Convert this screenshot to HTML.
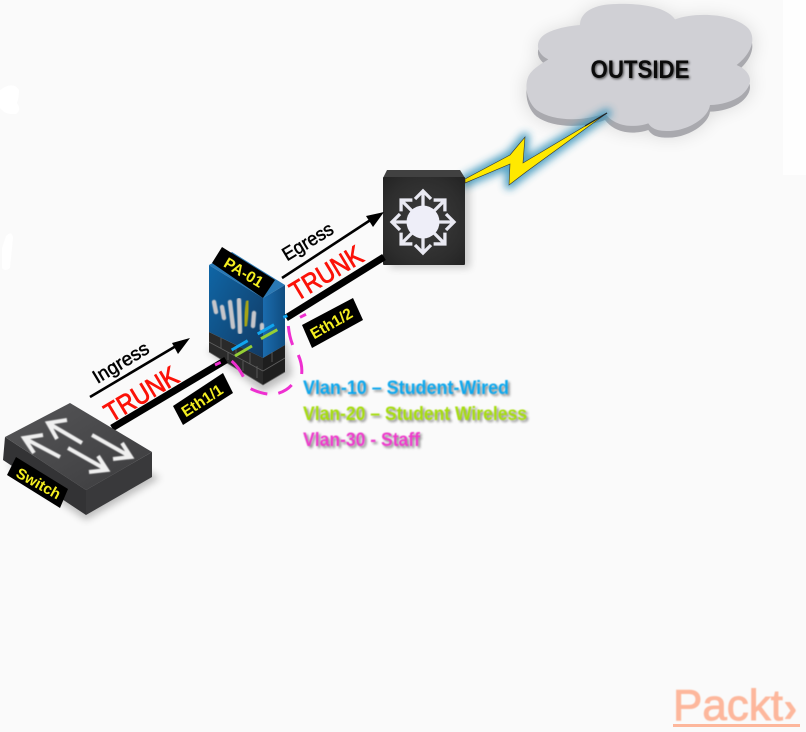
<!DOCTYPE html>
<html><head><meta charset="utf-8"><style>
html,body{margin:0;padding:0;background:#fafafa}
svg{display:block}
text{font-family:"Liberation Sans",sans-serif}
</style></head><body>
<svg width="806" height="732" viewBox="0 0 806 732" xmlns="http://www.w3.org/2000/svg">
<defs>
<filter id="soft" x="-5%" y="-5%" width="110%" height="110%"><feGaussianBlur stdDeviation="0.45"/></filter>
<filter id="b6" x="-30%" y="-30%" width="160%" height="160%"><feGaussianBlur stdDeviation="30"/></filter>
<filter id="b4" x="-30%" y="-60%" width="160%" height="220%"><feGaussianBlur stdDeviation="4"/></filter>
<filter id="ts" x="-10%" y="-40%" width="120%" height="180%"><feGaussianBlur stdDeviation="1.2"/></filter>
<radialGradient id="rt" cx=".5" cy=".5" r=".7"><stop offset="0" stop-color="#3d3d3d"/><stop offset=".7" stop-color="#2d2d2d"/><stop offset="1" stop-color="#232323"/></radialGradient>
<linearGradient id="fw" x1="0" y1="0" x2="1" y2="1"><stop offset="0" stop-color="#0f66a6"/><stop offset="1" stop-color="#123a63"/></linearGradient>
<linearGradient id="fw2" x1="0" y1="0" x2="1" y2="0"><stop offset="0" stop-color="#1b6cae"/><stop offset="1" stop-color="#0f4c7f"/></linearGradient>
<linearGradient id="swt" x1="0" y1="0" x2="1" y2="1"><stop offset="0" stop-color="#565658"/><stop offset="1" stop-color="#3c3c3e"/></linearGradient>
<path id="cl" d="M85 178C45 160 40 115 90 95C120 82 150 78 180 75C180 35 225 12 290 12C370 10 440 22 465 58C530 35 640 40 685 85C710 115 695 160 650 195C695 215 705 250 665 285C640 305 600 315 570 315C565 355 500 395 440 393C410 393 395 385 385 370C340 385 285 380 255 340C190 365 100 365 50 330C15 300 10 240 35 215C50 198 70 188 85 178Z"/>
</defs>

<rect width="806" height="732" fill="#fafafa"/>
<g transform="translate(520 0) scale(.3333)">
 <use href="#cl" transform="translate(0 12)" fill="#000" opacity=".16" filter="url(#b6)"/>
</g>
<rect x="783" y="0" width="23" height="175" fill="#fefefe"/>
<path d="M3 88Q14 82 19 90Q19 98 17 103Q22 110 16 114Q6 115 2 110L0 108V90Z" fill="#fff"/>
<path d="M6 236Q12 230 13 238L10 268Q5 272 2 268L2 248Z" fill="#fff"/>

<!-- cloud -->
<g transform="translate(520 0) scale(.3333)">
 <use href="#cl" transform="translate(0 20)" fill="#a9a9ae"/>
 <use href="#cl" fill="#d0d0d5"/>
</g>
<text x="640" y="78" text-anchor="middle" font-size="25" font-weight="700" textLength="99" lengthAdjust="spacingAndGlyphs" fill="#000" opacity=".7" filter="url(#ts)" transform="translate(1 1)">OUTSIDE</text>
<text x="640" y="78" text-anchor="middle" font-size="25" font-weight="700" textLength="99" lengthAdjust="spacingAndGlyphs" fill="#0b0b0b">OUTSIDE</text>

<!-- lightning -->
<polygon points="465,179 510,155 525,137 523,163 607,113 526,172 509,185 510,164 465,183" fill="#2f8fb8" opacity=".8" stroke="#2f8fb8" stroke-width="9" stroke-linejoin="round" filter="url(#b4)"/>
<polygon points="465,179 510,155 525,137 523,163 607,113 526,172 509,185 510,164 465,183" fill="#ffe900" stroke="#333" stroke-width=".6"/>
<path d="M585 126L607 113" stroke="#222" stroke-width="1.2"/>

<!-- router -->
<polygon points="390,268 470,268 470,180 390,180" fill="#000" opacity=".18" filter="url(#b4)"/>
<polygon points="387,170 460,170 465,178 383,178" fill="#414141"/>
<rect x="383" y="177" width="82" height="88" rx="1" fill="url(#rt)"/>
<path d="M386 178H462" stroke="#666" stroke-width="1.2" filter="url(#soft)"/>
<g fill="none" stroke="#e9e9f2" stroke-width="3.3">
 <path d="M423 222V191M415 199L423 191L431 199"/>
 <path d="M423 222V191M415 199L423 191L431 199" transform="rotate(45 423 222)"/>
 <path d="M423 222V191M415 199L423 191L431 199" transform="rotate(90 423 222)"/>
 <path d="M423 222V191M415 199L423 191L431 199" transform="rotate(135 423 222)"/>
 <path d="M423 222V191M415 199L423 191L431 199" transform="rotate(180 423 222)"/>
 <path d="M423 222V191M415 199L423 191L431 199" transform="rotate(225 423 222)"/>
 <path d="M423 222V191M415 199L423 191L431 199" transform="rotate(270 423 222)"/>
 <path d="M423 222V191M415 199L423 191L431 199" transform="rotate(315 423 222)"/>
</g>
<circle cx="423" cy="222" r="16.5" fill="#eeeef8"/>

<!-- firewall -->
<polygon points="207,350 263,392 292,375 285,340" fill="#000" opacity=".25" filter="url(#b4)"/>
<polygon points="209,265 232,252 285,285 263,298" fill="#2a79b5"/>
<polygon points="209,265 263,298 263,358 209,332" fill="url(#fw)"/>
<polygon points="263,298 285,285 285,345 263,358" fill="url(#fw2)"/>
<polygon points="209,332 263,358 263,385 209,352" fill="#2a2a2a"/>
<polygon points="263,358 285,345 285,372 263,385" fill="#1e1e1e"/>
<g stroke="#6a6a6a" stroke-width=".8" fill="none" opacity=".85">
 <path d="M209 342L263 371M263 371L285 358M209 352L263 385L285 372"/>
 <path d="M221 338V348M236 346V356M250 353V364M228 352V360M243 361V371M257 366V378M272 352V362"/>
</g>
<g stroke="#c6c6ca" stroke-width="4.4" stroke-linecap="round" fill="none" filter="url(#soft)">
 <path d="M214 302L216 312M222 307L224 318M230 302L233 327M239 300L240 332M254 313L253 326M262 325V329"/>
</g>
<path d="M248 302L245 325" stroke="#a6a418" stroke-width="4.4" stroke-linecap="round" filter="url(#soft)"/>

<!-- trunk lines -->
<path d="M112 428L226 360" stroke="#000" stroke-width="7"/>
<path d="M286 318L384 257" stroke="#000" stroke-width="7"/>

<g transform="translate(180 230) scale(.3333)" fill="none" stroke-width="9">
 <path d="M155 360L203 332M233 312L282 284M310 262L322 257" stroke="#10a5ee"/>
 <path d="M165 378L216 348M243 326L292 299" stroke="#95cf35"/>
 <path d="M105 405L122 397M155 393C175 410 185 430 190 440M212 476Q235 488 262 492M295 490Q320 482 335 465M365 432Q368 405 355 375M338 345Q328 320 325 288M360 262L378 253" stroke="#ee2fd0"/>
</g>

<!-- arrows -->
<path d="M90 397L176 346" stroke="#000" stroke-width="2.6"/>
<polygon points="190,338 172,343 178,354" fill="#000"/>
<path d="M282 278L372 219" stroke="#000" stroke-width="2.6"/>
<polygon points="384,212 366,216 373,227" fill="#000"/>

<text transform="translate(124 368) rotate(-31)" text-anchor="middle" font-size="19" textLength="62" lengthAdjust="spacingAndGlyphs" fill="#000" stroke="#000" stroke-width=".5">Ingress</text>
<text transform="translate(311 247) rotate(-31)" text-anchor="middle" font-size="19" textLength="56" lengthAdjust="spacingAndGlyphs" fill="#000" stroke="#000" stroke-width=".5">Egress</text>
<text transform="translate(146 402) rotate(-31)" text-anchor="middle" font-size="27" textLength="81" lengthAdjust="spacingAndGlyphs" fill="#fb1208" stroke="#fb1208" stroke-width=".8">TRUNK</text>
<text transform="translate(331 281) rotate(-31)" text-anchor="middle" font-size="27" textLength="80" lengthAdjust="spacingAndGlyphs" fill="#fb1208" stroke="#fb1208" stroke-width=".8">TRUNK</text>

<!-- labels -->
<polygon points="222,247 275,280 263,298 212,263" fill="#000"/>
<text transform="translate(241 277) rotate(31)" text-anchor="middle" font-size="15.5" font-weight="700" fill="#f4ee20">PA-01</text>
<polygon points="173,406 223,373 233,393 183,425" fill="#000"/>
<text transform="translate(205 405) rotate(-33)" text-anchor="middle" font-size="15.5" font-weight="700" textLength="46" lengthAdjust="spacingAndGlyphs" fill="#f4ee20">Eth1/1</text>
<polygon points="302,325 353,298 363,320 312,348" fill="#000"/>
<text transform="translate(334 328) rotate(-30)" text-anchor="middle" font-size="15.5" font-weight="700" textLength="46" lengthAdjust="spacingAndGlyphs" fill="#f4ee20">Eth1/2</text>

<!-- switch -->
<polygon points="8,465 86,520 160,478 90,440" fill="#000" opacity=".25" filter="url(#b4)"/>
<polygon points="5,437 86,490 86,515 3,460" fill="#333335"/>
<polygon points="86,490 152,452 152,477 86,515" fill="#39393b"/>
<polygon points="5,437 70,403 152,452 86,490" fill="url(#swt)"/>
<g fill="none" stroke="#efefef" stroke-width="4" filter="url(#soft)">
 <path d="M82 443L48 423M67 420L48 423L57 439"/>
 <path d="M60 457L24 438M43 435L24 438L34 453"/>
 <path d="M92 435L131 457M113 459L131 457L122 443"/>
 <path d="M68 448L107 470M89 472L107 470L98 456"/>
</g>
<polygon points="16,457 68,489 60,508 7,475" fill="#000"/>
<text transform="translate(36 488) rotate(29)" text-anchor="middle" font-size="15" font-weight="700" fill="#f4ee20">Switch</text>

<!-- vlan legend -->
<g font-size="19" font-weight="700">
 <g fill="#555" opacity=".65" filter="url(#ts)" transform="translate(2 2)">
  <text x="303" y="394" textLength="206" lengthAdjust="spacingAndGlyphs">Vlan-10 – Student-Wired</text>
  <text x="303" y="420" textLength="224" lengthAdjust="spacingAndGlyphs">Vlan-20 – Student Wireless</text>
  <text x="303" y="446" textLength="117" lengthAdjust="spacingAndGlyphs">Vlan-30 - Staff</text>
 </g>
 <g filter="url(#soft)">
  <text x="303" y="394" textLength="206" lengthAdjust="spacingAndGlyphs" fill="#0aa8ee">Vlan-10 – Student-Wired</text>
  <text x="303" y="420" textLength="224" lengthAdjust="spacingAndGlyphs" fill="#a6dd0c">Vlan-20 – Student Wireless</text>
  <text x="303" y="446" textLength="117" lengthAdjust="spacingAndGlyphs" fill="#ee3bcc">Vlan-30 - Staff</text>
 </g>
</g>

<!-- packt -->
<text x="673" y="720" font-size="44" textLength="110" lengthAdjust="spacingAndGlyphs" fill="#fdb79c" stroke="#fdb79c" stroke-width=".9" filter="url(#soft)">Packt</text>
<text x="783" y="722" font-size="44" font-weight="700" fill="#fdb79c" filter="url(#soft)">›</text>
<rect x="673" y="724" width="127" height="3" fill="#fdb79c"/>
</svg>
</body></html>
